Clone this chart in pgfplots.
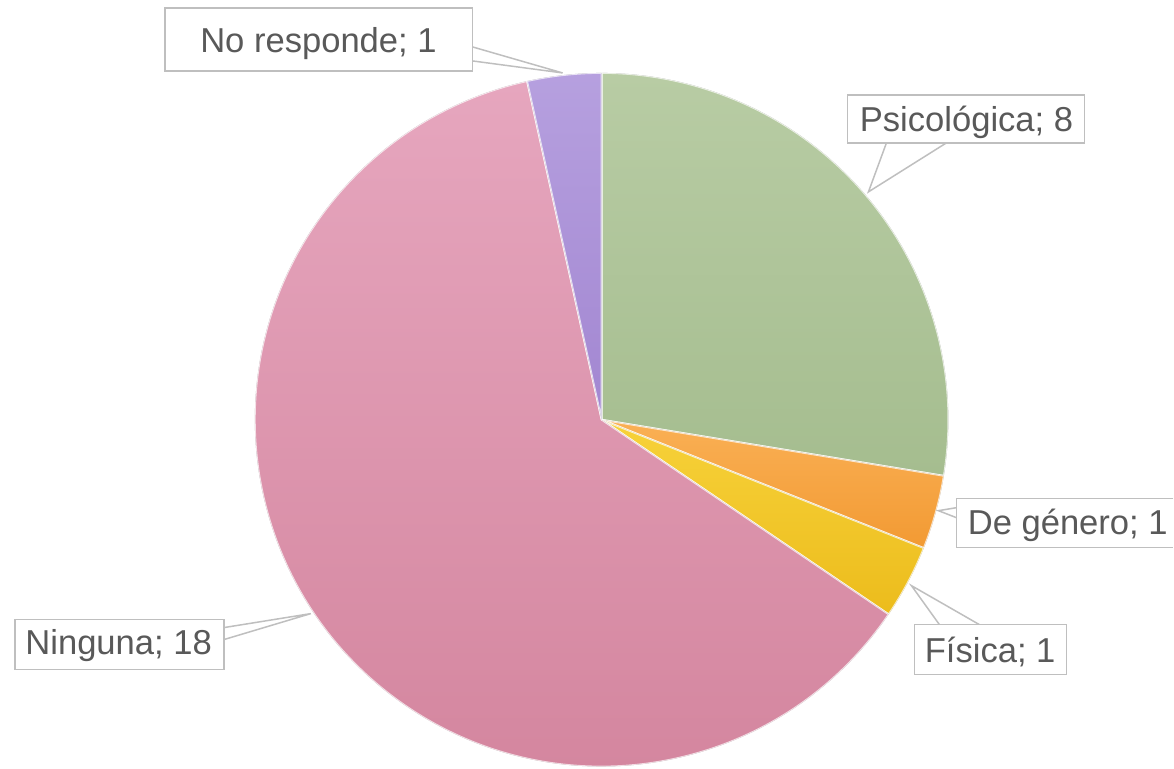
\documentclass[border=0pt]{standalone}
\usepackage{fontspec}
\setmainfont{Liberation Sans}
\usepackage{pgfplots}
\usepackage{pgfplotstable}
\pgfplotsset{compat=1.18}

\definecolor{gT}{HTML}{B8CCA4}
\definecolor{gB}{HTML}{A5BD8F}
\definecolor{oT}{HTML}{FAB055}
\definecolor{oB}{HTML}{F29A33}
\definecolor{yT}{HTML}{F7D23A}
\definecolor{yB}{HTML}{ECBC1C}
\definecolor{pT}{HTML}{E6A6BE}
\definecolor{pB}{HTML}{D3849D}
\definecolor{vT}{HTML}{B6A0DF}
\definecolor{vB}{HTML}{A286D1}
\definecolor{bordergray}{HTML}{BFBFBF}
\definecolor{textgray}{HTML}{595959}

\pgfplotstableread[col sep=comma]{
label,value,top,bot
Psicológica,8,gT,gB
De género,1,oT,oB
Física,1,yT,yB
Ninguna,18,pT,pB
No responde,1,vT,vB
}\piedata

\begin{document}
\begin{tikzpicture}
% cumulative angles computed from the table values
\xdef\total{0}
\foreach \i in {0,...,4}{%
  \pgfplotstablegetelem{\i}{value}\of\piedata
  \pgfmathsetmacro\t{\total+\pgfplotsretval}%
  \xdef\total{\t}%
}%
\xdef\cur{90}%
\foreach \i in {0,...,4}{%
  \pgfplotstablegetelem{\i}{value}\of\piedata
  \pgfmathsetmacro\e{\cur-360*\pgfplotsretval/\total}%
  \expandafter\xdef\csname sa\i\endcsname{\cur}%
  \expandafter\xdef\csname ea\i\endcsname{\e}%
  \pgfplotstablegetelem{\i}{top}\of\piedata
  \expandafter\xdef\csname ct\i\endcsname{\pgfplotsretval}%
  \pgfplotstablegetelem{\i}{bot}\of\piedata
  \expandafter\xdef\csname cb\i\endcsname{\pgfplotsretval}%
  \xdef\cur{\e}%
}%
\begin{axis}[
  scale only axis,
  width=587pt, height=384.5pt,
  xmin=0, xmax=1174, ymin=0, ymax=769,
  y dir=reverse,
  hide axis,
  clip=false,
]
\path (axis cs:0,0) rectangle (axis cs:1174,769);
\pgfplotsinvokeforeach{0,...,4}{
  \fill[overlay, top color=\csname ct#1\endcsname, bottom color=\csname cb#1\endcsname,
        draw=white, draw opacity=0.7, line width=0.9pt, line join=round]
    (axis cs:602,420) -- ++(\csname sa#1\endcsname:173.5pt)
    arc[start angle=\csname sa#1\endcsname, end angle=\csname ea#1\endcsname, radius=173.5pt]
    -- cycle;
}

\tikzset{callout/.style={fill=white, draw=bordergray, line width=0.75pt},
         lbl/.style={text=textgray, inner sep=0pt, anchor=base west,
                     font=\fontsize{17.3}{20}\selectfont}}
% No responde
\filldraw[callout] (axis cs:473,47) -- (axis cs:563,73) -- (axis cs:473,61);
\filldraw[callout] (axis cs:165,8) rectangle (axis cs:473,71);
\node[lbl] at (axis cs:200,53) {No responde; 1};
% Psicologica
\filldraw[callout] (axis cs:887,143) -- (axis cs:869,192) -- (axis cs:947,143);
\filldraw[callout] (axis cs:848,95) rectangle (axis cs:1085,143);
\node[lbl] at (axis cs:860,132) {Psicológica; 8};
% De genero
\filldraw[callout] (axis cs:957,508) -- (axis cs:939,511) -- (axis cs:957,518);
\fill[white] (axis cs:957,499) rectangle (axis cs:1174,548);
\draw[bordergray, line width=0.75pt] (axis cs:1174,499) -- (axis cs:957,499) -- (axis cs:957,548) -- (axis cs:1174,548);
\node[lbl] at (axis cs:968,535) {De género; 1};
% Fisica
\filldraw[callout] (axis cs:940,625) -- (axis cs:912,586) -- (axis cs:980,625);
\filldraw[callout] (axis cs:915,625) rectangle (axis cs:1067,675);
\node[lbl] at (axis cs:925,663) {Física; 1};
% Ninguna
\filldraw[callout] (axis cs:224,628) -- (axis cs:311,614) -- (axis cs:224,640);
\filldraw[callout] (axis cs:15,620) rectangle (axis cs:224,670);
\node[lbl] at (axis cs:25,655) {Ninguna; 18};
\end{axis}
\end{tikzpicture}
\end{document}
